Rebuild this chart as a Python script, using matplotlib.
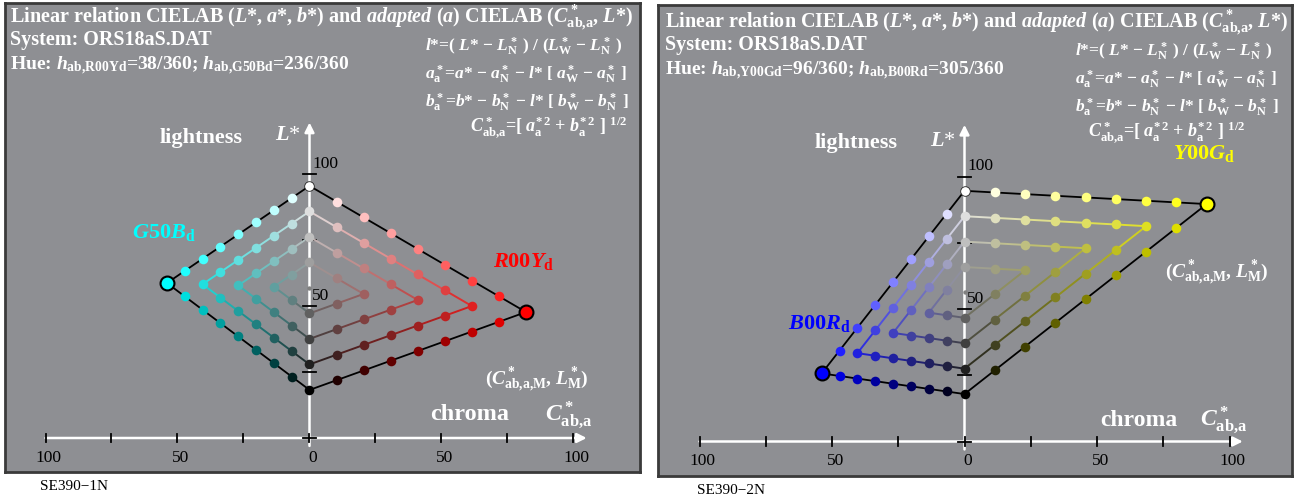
import numpy as np
import matplotlib.pyplot as plt

plt.rcParams['font.family'] = ['Liberation Serif', 'DejaVu Serif']
plt.rcParams['mathtext.fontset'] = 'custom'
plt.rcParams['mathtext.rm'] = 'Liberation Serif:bold'
plt.rcParams['mathtext.it'] = 'Liberation Serif:italic:bold'
plt.rcParams['mathtext.bf'] = 'Liberation Serif:bold'

# ---- data ----
n_steps = 8  # 9 levels on every edge of the colour triangle

left_white_L = 95.5
left_black_L = 18.2
left_hues = ['R00Y', 'G50B']
left_hue_deg = [38, 236]
left_max_C = [82.0, -54.0]
left_max_L = [47.7, 58.7]
left_max_rgb = [(1.0, 0.0, 0.0), (0.0, 1.0, 1.0)]

right_white_L = 94.6
right_black_L = 17.9
right_hues = ['Y00G', 'B00R']
right_hue_deg = [96, 305]
right_max_C = [91.4, -53.9]
right_max_L = [89.6, 25.7]
right_max_rgb = [(1.0, 1.0, 0.0), (0.0, 0.0, 1.0)]

chroma_ticks = [-100, -75, -50, -25, 0, 25, 50, 75, 100]
chroma_labels = ['100', '', '50', '', '0', '', '50', '', '100']
light_ticks = [25, 50, 75, 100]
light_labels = ['', '50', '', '100']

W, H = 1294, 497
BG = '#8e8f93'
CAB = r'C^*_\mathrm{ab{,}a}'

fig = plt.figure(figsize=(W / 100, H / 100), dpi=100)
fig.patch.set_facecolor('white')


def fpos(x, y):
    return x / W, 1 - y / H


def make_axes(x0, y0, x1, y1, ox, oy, s):
    ax = fig.add_axes([x0 / W, 1 - y1 / H, (x1 - x0) / W, (y1 - y0) / H])
    ax.set_xlim((x0 - ox) / s, (x1 - ox) / s)
    ax.set_ylim((oy - y1) / s, (oy - y0) / s)
    ax.set_facecolor(BG)
    ax.set_xticks([])
    ax.set_yticks([])
    for sp in ax.spines.values():
        sp.set_color('#3a3a3a')
        sp.set_linewidth(2)
    return ax


def draw_axes(ax):
    ax.annotate('', xy=(105, 0), xytext=(-100, 0),
                arrowprops=dict(arrowstyle='-|>', color='white', lw=1.8,
                                mutation_scale=14, shrinkA=0, shrinkB=0), zorder=1)
    ax.annotate('', xy=(0, 119.5), xytext=(0, -3),
                arrowprops=dict(arrowstyle='-|>', color='white', lw=1.8,
                                mutation_scale=14, shrinkA=0, shrinkB=0), zorder=1)
    for c, lab in zip(chroma_ticks, chroma_labels):
        ax.plot([c, c], [-1.6, 1.6], color='black', lw=1.3, zorder=2)
        if lab:
            ax.text(c + 1.2, -4.5, lab, ha='center', va='top', fontsize=12.5, color='black')
    for l, lab in zip(light_ticks, light_labels):
        ax.plot([-2.4, 2.4], [l, l], color='black', lw=1.3, zorder=2)
        if lab:
            ax.text(1.0, l + 0.8, lab, ha='left', va='bottom', fontsize=12.5, color='black')
    ax.plot([-2.4, 2.4], [0, 0], color='black', lw=1.3, zorder=2)


def draw_lattice(ax, white_L, black_L, max_C, max_L, max_rgb, hues):
    Wp = np.array([0.0, white_L])
    Np = np.array([0.0, black_L])
    n = n_steps

    def pt(w, c, M, col):
        k = n - w - c
        pos = (w * Wp + c * M + k * Np) / n
        rgb = np.clip((w * np.ones(3) + c * col) / n, 0, 1)
        return pos, rgb

    # outer black outline
    M0 = np.array([max_C[0], max_L[0]])
    M1 = np.array([max_C[1], max_L[1]])
    outline = np.array([Wp, M0, Np, M1, Wp])
    ax.plot(outline[:, 0], outline[:, 1], color='black', lw=1.3, zorder=3)

    for h in range(2):
        M = np.array([max_C[h], max_L[h]])
        col = np.array(max_rgb[h])
        # nested chevrons
        for k in range(1, n // 2):
            upper = [pt(n - k - c, c, M, col) for c in range(0, n - 2 * k + 1)]
            lower = [pt(k, c, M, col) for c in range(n - 2 * k, -1, -1)]
            chain = upper + lower[1:]
            for (p1, c1), (p2, c2) in zip(chain[:-1], chain[1:]):
                ax.plot([p1[0], p2[0]], [p1[1], p2[1]], color=(c1 + c2) / 2,
                        lw=1.4, zorder=3)
        # dots
        for w in range(n + 1):
            for c in range(n - w + 1):
                if h == 1 and c == 0:
                    continue
                pos, rgb = pt(w, c, M, col)
                if c == n:
                    ax.scatter(pos[0], pos[1], s=100, color=rgb, edgecolors='black',
                               linewidths=1.5, zorder=5)
                elif c == 0 and w == n:
                    ax.scatter(pos[0], pos[1], s=48, color=rgb, edgecolors='#222222',
                               linewidths=0.6, zorder=4)
                elif c == 0 and 2 * w == n:
                    ax.scatter(pos[0], pos[1], s=10, color=rgb, linewidths=0, zorder=4)
                else:
                    ax.scatter(pos[0], pos[1], s=48, color=rgb, linewidths=0, zorder=4)
        # hue name
        ax.text(max_C[h] - 1, max_L[h] + 19, r'$\mathit{%s}_\mathrm{d}$' % hues[h],
                ha='center', va='center', fontsize=16, color=max_rgb[h], zorder=6)
    hr = 0 if max_C[0] > 0 else 1
    ax.text(max_C[hr] + 4, max_L[hr] - 26,
            r'($C^*_\mathrm{ab{,}a{,}M}$, $L^*_\mathrm{M}$)',
            ha='center', va='center', fontsize=14, color='white', fontweight='bold')


def draw_texts(x0, y0, hues, hue_deg, fx, cx):
    kw = dict(color='white', fontweight='bold', va='center', ha='left')
    fig.text(*fpos(x0, y0), r'Linear relation CIELAB ($\mathit{L}$*, $\mathit{a}$*, $\mathit{b}$*) '
             r'and $\mathit{adapted\ (a)}$ CIELAB ($%s$, $\mathit{L}$*)' % CAB,
             fontsize=14.5, **kw)
    fig.text(*fpos(x0, y0 + 23), 'System: ORS18aS.DAT', fontsize=14.5, **kw)
    fig.text(*fpos(x0, y0 + 49),
             r'Hue: $h_\mathrm{ab{,}%sd}$=%d/360; $h_\mathrm{ab{,}%sd}$=%d/360'
             % (hues[0], hue_deg[0], hues[1], hue_deg[1]), fontsize=14, **kw)
    fig.text(*fpos(fx, y0 + 30), r'$l$*=( $L$* − $L^*_\mathrm{N}$ ) / ($L^*_\mathrm{W}$ − $L^*_\mathrm{N}$ )',
             fontsize=12.5, **kw)
    fig.text(*fpos(fx, y0 + 58), r'$a^*_\mathrm{a}$=$a$* − $a^*_\mathrm{N}$ − $l$* [ $a^*_\mathrm{W}$ − $a^*_\mathrm{N}$ ]',
             fontsize=12.5, **kw)
    fig.text(*fpos(fx, y0 + 86), r'$b^*_\mathrm{a}$=$b$* − $b^*_\mathrm{N}$ − $l$* [ $b^*_\mathrm{W}$ − $b^*_\mathrm{N}$ ]',
             fontsize=12.5, **kw)
    fig.text(*fpos(cx, y0 + 111), r'$%s$=[ $a^{*\,2}_\mathrm{a}$ + $b^{*\,2}_\mathrm{a}$ ] ${}^{1/2}$' % CAB,
             fontsize=13, **kw)


# ---- left panel ----
axL = make_axes(5, 3, 640, 472, 309.5, 438, 2.64)
draw_axes(axL)
draw_lattice(axL, left_white_L, left_black_L, left_max_C, left_max_L, left_max_rgb, left_hues)
draw_texts(10, 17, left_hues, left_hue_deg, 425, 470)
fig.text(*fpos(160, 138), 'lightness', fontsize=16, color='white', fontweight='bold', va='center')
fig.text(*fpos(275, 136), r'$L$*', fontsize=16, color='white', va='center')
fig.text(*fpos(430, 415), 'chroma', fontsize=17.5, color='white', fontweight='bold', va='center')
fig.text(*fpos(545, 415), r'$%s$' % CAB, fontsize=17, color='white', va='center')
fig.text(*fpos(40, 487), 'SE390−1N', fontsize=11, color='black', va='center')

# ---- right panel ----
axR = make_axes(658, 5, 1292, 476, 964.5, 441.5, 2.65)
draw_axes(axR)
draw_lattice(axR, right_white_L, right_black_L, right_max_C, right_max_L, right_max_rgb, right_hues)
draw_texts(665, 22, right_hues, right_hue_deg, 1075, 1088)
fig.text(*fpos(815, 143), 'lightness', fontsize=16, color='white', fontweight='bold', va='center')
fig.text(*fpos(930, 142), r'$L$*', fontsize=16, color='white', va='center')
fig.text(*fpos(1100, 420), 'chroma', fontsize=17, color='white', fontweight='bold', va='center')
fig.text(*fpos(1200, 420), r'$%s$' % CAB, fontsize=17, color='white', va='center')
fig.text(*fpos(697, 490), 'SE390−2N', fontsize=11, color='black', va='center')

fig.savefig('out.png', dpi=100)
